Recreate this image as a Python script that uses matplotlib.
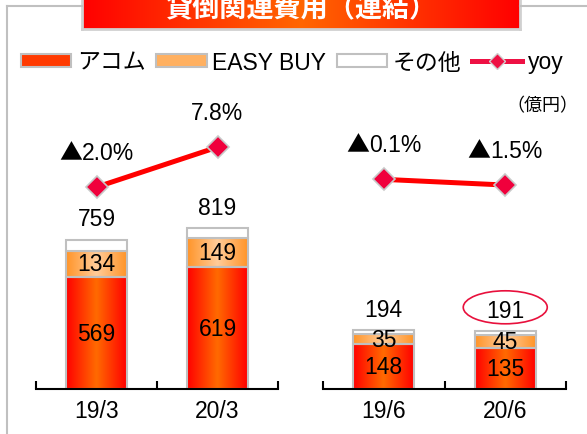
import numpy as np
import matplotlib.pyplot as plt
from matplotlib.colors import LinearSegmentedColormap
from matplotlib.patches import Patch, Ellipse
from matplotlib.lines import Line2D
from matplotlib.transforms import ScaledTranslation
from matplotlib.offsetbox import TextArea, HPacker, AnnotationBbox

plt.rcParams['font.family'] = ['Liberation Sans', 'Noto Sans CJK JP']

# data
title = '貸倒関連費用（連結）'
unit_label = '（億円）'
series_names = ['アコム', 'EASY BUY', 'その他', 'yoy']

periods_year = ['19/3', '20/3']
acom_year = [569, 619]
easy_year = [134, 149]
total_year = [759, 819]
yoy_year = [-2.0, 7.8]

periods_q = ['19/6', '20/6']
acom_q = [148, 135]
easy_q = [35, 45]
total_q = [194, 191]
yoy_q = [-0.1, -1.5]

W, H = 587, 435
fig = plt.figure(figsize=(W / 100, H / 100), dpi=100)


def fx(px):
    return px / W


def fy(py):
    return 1 - py / H


FS = 16.5
EDGE = '#c0c0c0'
acom_cmap = LinearSegmentedColormap.from_list('acom', ['#ff0000', '#ff6a00', '#ff0000'])
easy_cmap = LinearSegmentedColormap.from_list('easy', ['#ff9428', '#ffcc99', '#ff9428'])
grad = np.linspace(0, 1, 256).reshape(1, -1)


def grad_fill(ax, bars, cmap):
    for b in bars:
        x0, y0 = b.get_x(), b.get_y()
        im = ax.imshow(grad, cmap=cmap, aspect='auto', zorder=1,
                       extent=(x0, x0 + b.get_width(), y0, y0 + b.get_height()))
        im.set_clip_path(b)


def yoy_label(ax, xi, v):
    # negative values are written with a full width triangle in front
    parts = []
    if v < 0:
        parts.append(TextArea('▲', textprops=dict(fontsize=FS, family=['Noto Sans CJK JP'])))
    parts.append(TextArea('{:.1f}%'.format(abs(v)), textprops=dict(fontsize=FS)))
    box = HPacker(children=parts, pad=0, sep=0, align='baseline')
    ab = AnnotationBbox(box, (xi, v), xybox=(0, 25), boxcoords='offset points',
                        frameon=False, box_alignment=(0.5, 0.5), pad=0)
    ax.add_artist(ab)


def draw_panel(ax, periods, acom, easy, total, yoy, ymax):
    x = np.arange(len(periods))
    acom = np.array(acom)
    easy = np.array(easy)
    total = np.array(total)
    other = total - acom - easy
    b1 = ax.bar(x, acom, 0.5, fc='none', ec=EDGE, lw=1.5, zorder=2)
    b2 = ax.bar(x, easy, 0.5, bottom=acom, fc='none', ec=EDGE, lw=1.5, zorder=2)
    ax.bar(x, other, 0.5, bottom=acom + easy, fc='white', ec=EDGE, lw=1.5, zorder=2)
    grad_fill(ax, b1, acom_cmap)
    grad_fill(ax, b2, easy_cmap)
    for xi, a, e, t in zip(x, acom, easy, total):
        ax.text(xi, a / 2, str(a), ha='center', va='center', fontsize=FS, zorder=3)
        ax.text(xi, a + e / 2, str(e), ha='center', va='center', fontsize=FS, zorder=3)
        ax.annotate(str(t), (xi, t), xytext=(0, 15), textcoords='offset points',
                    ha='center', va='center', fontsize=FS)
    ax.set_xlim(-0.5, len(x) - 0.5)
    ax.set_ylim(0, ymax)
    ax.set_xticks(np.arange(len(x) + 1) - 0.5)
    ax.set_xticklabels([])
    ax.set_xticks(x, periods, minor=True)
    ax.tick_params(axis='x', which='major', direction='in', length=6, width=1.5, color='black')
    ax.tick_params(axis='x', which='minor', length=0, labelsize=FS, pad=7)
    ax.set_yticks([])
    for s in ['top', 'left', 'right']:
        ax.spines[s].set_visible(False)
    ax.spines['bottom'].set_linewidth(1.5)

    lx = ax.twinx()
    lx.plot(x, yoy, color='#ff0000', lw=3.6, marker='D', ms=11,
            mfc='#f0003c', mec='#c8c8c8', mew=1.2, zorder=4)
    lx.set_ylim(-51.5, 19.6)
    for xi, v in zip(x, yoy):
        yoy_label(lx, xi, v)
    lx.set_axis_off()
    return x


ax1 = fig.add_axes([fx(36), fy(390), fx(278) - fx(36), 290 / H])
ax2 = fig.add_axes([fx(323), fy(390), fx(566) - fx(323), 290 / H])
draw_panel(ax1, periods_year, acom_year, easy_year, total_year, yoy_year, 1475)
xq = draw_panel(ax2, periods_q, acom_q, easy_q, total_q, yoy_q, 960)

# circle around the latest quarter total
tr = fig.dpi_scale_trans + ScaledTranslation(xq[-1], total_q[-1], ax2.transData)
ax2.add_patch(Ellipse((0, 0.24), 0.84, 0.33, transform=tr, fill=False,
                      ec='#e8103c', lw=1.2, clip_on=False))

# legend
handles = [
    Patch(fc='#ff3a00', ec=EDGE, lw=1.5, label=series_names[0]),
    Patch(fc='#ffb060', ec=EDGE, lw=1.5, label=series_names[1]),
    Patch(fc='white', ec=EDGE, lw=1.5, label=series_names[2]),
    Line2D([], [], color='#ee1144', lw=3.6, marker='D', ms=8, mfc='#ee1144',
           mec='#d0d0d0', label=series_names[3]),
]
fig.legend(handles=handles, loc='center left', bbox_to_anchor=(fx(21), fy(63)),
           ncol=4, frameon=False, fontsize=FS, handlelength=2.2, handleheight=0.52,
           handletextpad=0.25, columnspacing=0.45, borderpad=0, borderaxespad=0)
fig.text(fx(578), fy(107), unit_label, ha='right', va='center', fontsize=13)

# outer frame
for xs, ys in [([7, 7], [7, H]), ([7, 82], [7, 7]), ([520, W], [7, 7])]:
    fig.add_artist(Line2D([fx(v) for v in xs], [fy(v) for v in ys], color=EDGE, lw=1.5))

# title box
tax = fig.add_axes([fx(82), fy(30), fx(520) - fx(82), 40 / H])
tax.imshow(grad, cmap=LinearSegmentedColormap.from_list('t', ['#ff0000', '#ff6600', '#ff0000']),
           aspect='auto', extent=(0, 1, 0, 1))
tax.set_xticks([])
tax.set_yticks([])
for s in tax.spines.values():
    s.set_color('#d0d0d0')
    s.set_linewidth(2)
fig.text(fx(301), fy(9), title, ha='center', va='center', fontsize=19.5,
         fontweight='bold', color='white', family=['Noto Sans CJK JP'])

fig.savefig('out.png', dpi=100)
